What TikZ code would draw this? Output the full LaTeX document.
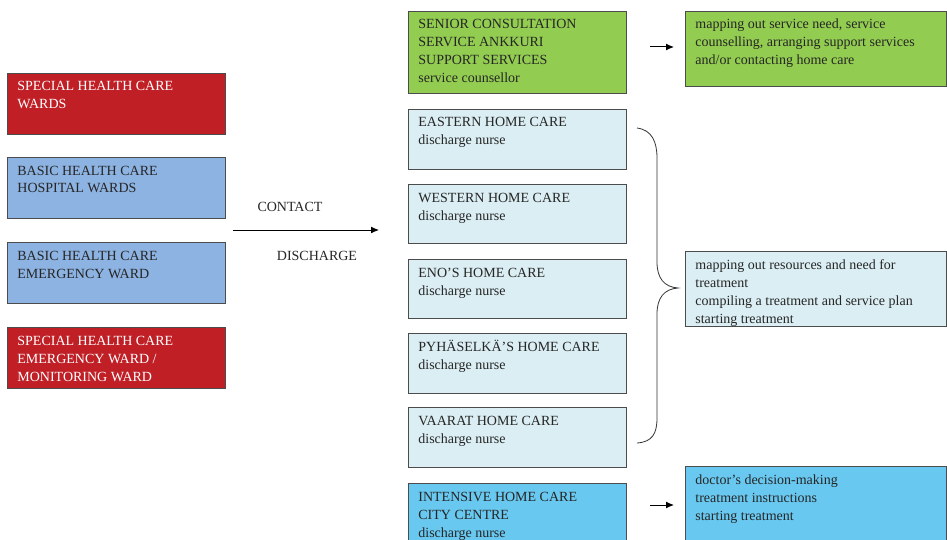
\documentclass[tikz,border=0pt]{standalone}
\usepackage{fontspec}
\setmainfont{Liberation Serif}
\usetikzlibrary{arrows.meta}

\definecolor{wardRed}{RGB}{192,31,38}
\definecolor{wardBlue}{RGB}{141,179,226}
\definecolor{serviceGreen}{RGB}{146,204,80}
\definecolor{homeBlue}{RGB}{219,238,243}
\definecolor{intensiveBlue}{RGB}{104,200,240}

% top aligned text block of fixed size
\newcommand{\cellbox}[3]{\parbox[c][#2][t]{#1}{\raggedright\strut #3}}

\begin{document}
\begin{tikzpicture}[x=1pt, y=-1pt,
  unitbox/.style={draw=black!70, line width=0.8pt, anchor=north west,
    inner xsep=10pt, inner ysep=5pt, text=black!85,
    font=\fontsize{14}{18}\selectfont},
  specialward/.style={unitbox, fill=wardRed, text=white},
  basicward/.style={unitbox, fill=wardBlue},
  servicebox/.style={unitbox, fill=serviceGreen},
  homecare/.style={unitbox, fill=homeBlue},
  intensive/.style={unitbox, fill=intensiveBlue},
  flowlabel/.style={font=\fontsize{14}{18}\selectfont, text=black!85},
  flow/.style={line width=1pt, -{Latex[length=8pt,width=7pt]}}]
% Frame of the page, cut at the right and bottom edges
\clip (0,0) rectangle (947,540);
\fill[white] (0,0) rectangle (947,540);
% Wards on the left
\node[specialward] (specWards) at (7,73) {\cellbox{198pt}{51pt}{SPECIAL HEALTH CARE\\WARDS}};
\node[basicward] (basicWards) at (7,157) {\cellbox{198pt}{51pt}{BASIC HEALTH CARE\\HOSPITAL WARDS}};
\node[basicward] (basicEmerg) at (7,242) {\cellbox{198pt}{51pt}{BASIC HEALTH CARE\\EMERGENCY WARD}};
\node[specialward] (specEmerg) at (7,327) {\cellbox{198pt}{51pt}{SPECIAL HEALTH CARE\\EMERGENCY WARD /\\MONITORING WARD}};
% Contact / discharge
\coordinate (contactStart) at (233,230);
\coordinate (contactEnd) at (379,230);
\draw[flow] (contactStart) -- (contactEnd);
\node[flowlabel] (contactLbl) at (290,207) {CONTACT};
\node[flowlabel] (dischargeLbl) at (317,256) {DISCHARGE};
% Services in the middle
\node[servicebox] (senior) at (408,11) {\cellbox{198pt}{72pt}{SENIOR CONSULTATION\\SERVICE ANKKURI\\SUPPORT SERVICES\\service counsellor}};
\node[homecare] (eastern) at (408,109) {\cellbox{198pt}{50pt}{EASTERN HOME CARE\\discharge nurse}};
\node[homecare] (western) at (408,184) {\cellbox{198pt}{49pt}{WESTERN HOME CARE\\discharge nurse}};
\node[homecare] (eno) at (408,259) {\cellbox{198pt}{49pt}{ENO'S HOME CARE\\discharge nurse}};
\node[homecare] (pyhaselka) at (408,333) {\cellbox{198pt}{50pt}{PYHÄSELKÄ'S HOME CARE\\discharge nurse}};
\node[homecare] (vaarat) at (408,407) {\cellbox{198pt}{50pt}{VAARAT HOME CARE\\discharge nurse}};
\node[intensive] (intensiveCare) at (408,483) {\cellbox{198pt}{70pt}{INTENSIVE HOME CARE\\CITY CENTRE\\discharge nurse}};
% Tasks on the right
\node[servicebox] (seniorTask) at (685,11) {\cellbox{241pt}{65pt}{mapping out service need, service\\counselling, arranging support services\\and/or contacting home care}};
\node[homecare] (homeTask) at (685,251) {\cellbox{241pt}{65pt}{mapping out resources and need for\\treatment\\compiling a treatment and service plan\\starting treatment}};
\node[intensive] (intensiveTask) at (685,466) {\cellbox{241pt}{75pt}{doctor's decision-making\\treatment instructions\\starting treatment}};
% Small arrows
\coordinate (seniorFrom) at (650,47);
\coordinate (seniorTo) at (674,47);
\draw[flow] (seniorFrom) -- (seniorTo);
\coordinate (intensiveFrom) at (650,505);
\coordinate (intensiveTo) at (674,505);
\draw[flow] (intensiveFrom) -- (intensiveTo);
% Brace over the home care units
\coordinate (braceTop) at (637,128);
\coordinate (braceTip) at (678,288);
\coordinate (braceBottom) at (637,443);
\draw[line width=0.8pt, black!80]
  (braceTop) .. controls (652,130) and (657,142) .. (657,158)
  -- (657,262) .. controls (657,278) and (664,287) .. (braceTip)
  .. controls (664,289) and (657,298) .. (657,314)
  -- (657,418) .. controls (657,434) and (652,442) .. (braceBottom);
\end{tikzpicture}
\end{document}
